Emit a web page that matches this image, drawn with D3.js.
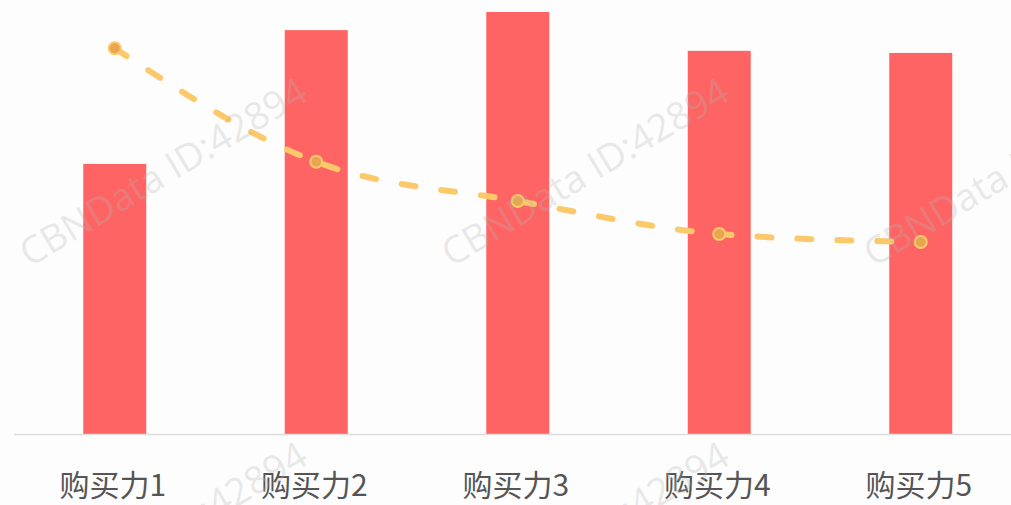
<html>
<head>
<meta charset="utf-8">
<script src="https://d3js.org/d3.v7.min.js"></script>
<style>
body { margin: 0; background: #fdfdfd; }
svg { display: block; }
</style>
</head>
<body>
<svg></svg>
<script>

var width = 1011;
var height = 505;

// Data
var categories = ["购买力1", "购买力2", "购买力3", "购买力4", "购买力5"];
var barValues = [64.0, 95.7, 100, 90.8, 90.3];
var lineValues = [91.4, 64.5, 55.2, 47.4, 45.5];

var baseline = 434;

var svg = d3.select("svg").attr("width", width).attr("height", height);

svg.append("rect").attr("width", width).attr("height", height).style("fill", "#fdfdfd");

// Scales
var xScale = d3.scaleBand().domain(categories).range([14, 1021.5]);
var yScale = d3.scaleLinear().domain([0, 100]).range([baseline, 12]);
var barWidth = 63;

// Bars
svg.selectAll("rect.bar").data(categories).enter().append("rect")
.attr("class", "bar")
.attr("x", function (d) { return xScale(d) + xScale.bandwidth() / 2 - barWidth / 2; })
.attr("width", barWidth)
.attr("y", function (d, i) { return yScale(barValues[i]); })
.attr("height", function (d, i) { return baseline - yScale(barValues[i]); })
.style("fill", "#ff6464");

// Axis line
svg.append("line")
.attr("x1", 14).attr("x2", width)
.attr("y1", baseline + 0.5).attr("y2", baseline + 0.5)
.style("stroke", "#dddddd").style("stroke-width", 1.5);

// Category labels
svg.selectAll("text.cat").data(categories).enter().append("text")
.attr("class", "cat")
.attr("x", function (d) { return xScale(d) + xScale.bandwidth() / 2 - 2; })
.attr("y", 496)
.attr("text-anchor", "middle")
.style("font-family", "'Noto Sans CJK SC', 'Noto Sans', sans-serif")
.style("font-size", "30px")
.style("fill", "#555555")
.text(function (d) { return d; });

// Dashed smooth line
var linePoints = categories.map(function (d, i) {
	return [xScale(d) + xScale.bandwidth() / 2, yScale(lineValues[i])];
});

var line = d3.line().curve(d3.curveMonotoneX);

svg.append("path")
.attr("d", line(linePoints))
.style("fill", "none")
.style("stroke", "#fcc96a")
.style("stroke-width", 6)
.style("stroke-linecap", "round")
.style("stroke-dasharray", "14 26");

svg.selectAll("circle").data(linePoints).enter().append("circle")
.attr("cx", function (d) { return d[0]; })
.attr("cy", function (d) { return d[1]; })
.attr("r", 6)
.style("fill", "#e9a650")
.style("stroke", "#fcc96a")
.style("stroke-width", 2);

// Watermark, tiled
var marks = [];
for (var r = 0; r < 2; r++) {
	for (var c = 0; c < 3; c++) {
		marks.push({ x: 163 + c * 422, y: 172 + r * 364 });
	}
}

svg.selectAll("text.wm").data(marks).enter().append("text")
.attr("class", "wm")
.attr("transform", function (d) { return "translate(" + d.x + "," + d.y + ") rotate(-31)"; })
.attr("text-anchor", "middle")
.attr("dy", "0.35em")
.style("font-family", "'Open Sans', 'Liberation Sans', sans-serif")
.style("font-size", "38px")
.style("fill", "rgba(180,180,180,0.3)")
.text("CBNData ID:42894");

</script>
</body>
</html>
